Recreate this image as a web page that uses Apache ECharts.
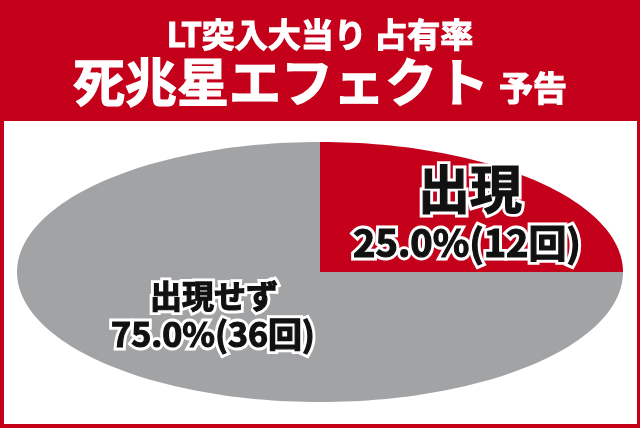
<!DOCTYPE html>
<html>
<head>
<meta charset="utf-8">
<script src="https://cdn.jsdelivr.net/npm/echarts@6/dist/echarts.min.js"></script>
<style>
html,body{margin:0;padding:0;background:#c4001a;}
#chart{width:640px;height:428px;}
</style>
</head>
<body>
<div id="chart"></div>
<script>
// ---- data ----
var titleLine1 = 'LT突入大当り 占有率';
var titleMain = '死兆星エフェクト';
var titleSuffix = '予告';
var categories = ['出現', '出現せず'];
var counts = [12, 36];
var countUnit = '回';
var sliceColors = ['#c4001a', '#a2a3a5'];

var total = counts.reduce(function (a, b) { return a + b; }, 0);
function pctLabel(i) {
  return (counts[i] / total * 100).toFixed(1) + '%(' + counts[i] + countUnit + ')';
}

var FONT = '"Noto Sans CJK JP", "Noto Sans", sans-serif';
var chart = echarts.init(document.getElementById('chart'), null, {renderer: 'canvas'});

function renderSlice(params, api) {
  var i = params.dataIndex;
  var before = 0;
  for (var k = 0; k < i; k++) before += counts[k];
  var f0 = before / total, f1 = (before + counts[i]) / total;
  var steps = Math.max(4, Math.round((f1 - f0) * 240));
  var pts = [api.coord([0, 0])];
  for (var s = 0; s <= steps; s++) {
    var t = 2 * Math.PI * (f0 + (f1 - f0) * s / steps);
    pts.push(api.coord([Math.sin(t), Math.cos(t)]));
  }
  return {
    type: 'polygon',
    shape: {points: pts},
    style: {fill: sliceColors[i], stroke: null}
  };
}

// outlined label: white halo underneath, black (slightly emboldened) text on top
function label(text, x, y, size) {
  var base = {align: 'center', verticalAlign: 'middle', text: text, font: 'bold ' + size + 'px ' + FONT};
  return [
    {type: 'text', x: x, y: y, z: 100, silent: true,
     style: Object.assign({}, base, {fill: '#fff', stroke: '#fff', lineWidth: 7, lineJoin: 'round'})},
    {type: 'text', x: x, y: y, z: 101, silent: true,
     style: Object.assign({}, base, {fill: '#111', stroke: '#111', lineWidth: 1.2, lineJoin: 'round'})}
  ];
}
function title(text, x, y, size, align) {
  return {type: 'text', x: x, y: y, silent: true,
    style: {text: text, font: 'bold ' + size + 'px ' + FONT, fill: '#fff', stroke: '#fff', lineWidth: 1.2,
            lineJoin: 'round', align: align, verticalAlign: 'middle'}};
}

chart.setOption({
  animation: false,
  backgroundColor: '#c4001a',
  grid: {left: 17, right: 17, top: 142, bottom: 26, containLabel: false},
  xAxis: {type: 'value', min: -1, max: 1, show: false},
  yAxis: {type: 'value', min: -1, max: 1, show: false},
  graphic: [
    {type: 'rect', shape: {x: 4, y: 121, width: 633, height: 303}, style: {fill: '#fff'}, z: -10, silent: true},
    title(titleLine1, 320, 34, 33, 'center'),
    title(titleMain, 73, 82, 52, 'left'),
    title(titleSuffix, 499, 88, 34, 'left')
  ].concat(
    label(categories[0], 470, 189, 52),
    label(pctLabel(0), 467, 243, 38),
    label(categories[1], 214, 296, 32),
    label(pctLabel(1), 213, 334, 34)
  ),
  series: [{
    type: 'custom',
    coordinateSystem: 'cartesian2d',
    renderItem: renderSlice,
    data: counts.map(function (v, i) { return {name: categories[i], value: [0, 0, v]}; }),
    silent: true
  }]
});
</script>
</body>
</html>
